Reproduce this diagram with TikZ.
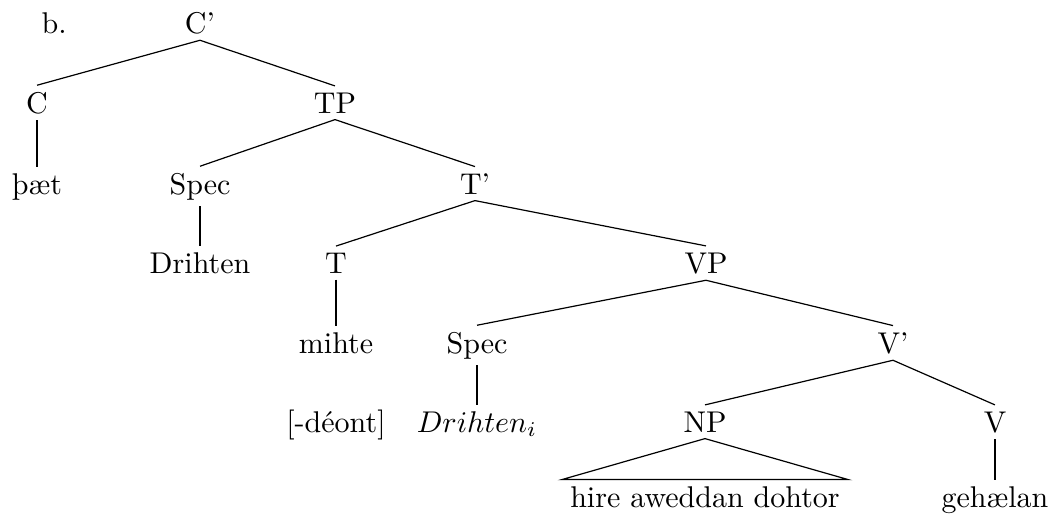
\documentclass[tikz,border=0pt]{standalone}
\begin{document}
\begin{tikzpicture}[x=0.3333pt,y=-0.3333pt,
  lab/.style={anchor=base,inner xsep=1pt,inner ysep=2pt,font=\fontsize{10}{12}\selectfont},
  edge/.style={draw,line width=0.4pt}]
\useasboundingbox (0,0) rectangle (1056,521);
% labels
\node[lab,anchor=base west] (b) at (38,33) {b.};
\node[lab] (Cbar) at (200,33) {C'};
\node[lab] (C) at (37,113) {C};
\node[lab] (TP) at (335,113) {TP};
\node[lab] (that) at (37,194) {þæt};
\node[lab] (Spec1) at (200,194) {Spec};
\node[lab] (Tbar) at (475,194) {T'};
\node[lab] (Drihten) at (200,273) {Drihten};
\node[lab] (T) at (336,273) {T};
\node[lab] (VP) at (706,273) {VP};
\node[lab] (mihte) at (336,353) {mihte};
\node[lab] (Spec2) at (477,353) {Spec};
\node[lab] (Vbar) at (893,353) {V'};
\node[lab] (deont) at (336,432) {[-déont]};
\node[lab] (Drihteni) at (477,432) {$Drihten_i$};
\node[lab] (NP) at (705,432) {NP};
\node[lab] (V) at (995,432) {V};
\node[lab,inner xsep=2.6pt] (hire) at (705,507) {hire aweddan dohtor};
\node[lab] (gehaelan) at (995,507) {gehælan};
% edges
\draw[edge] (Cbar.south) -- (C.north);
\draw[edge] (Cbar.south) -- (TP.north);
\draw[edge] (C.south) -- (that.north);
\draw[edge] (TP.south) -- (Spec1.north);
\draw[edge] (TP.south) -- (Tbar.north);
\draw[edge] (Spec1.south) -- (Drihten.north);
\draw[edge] (Tbar.south) -- (T.north);
\draw[edge] (Tbar.south) -- (VP.north);
\draw[edge] (T.south) -- (mihte.north);
\draw[edge] (VP.south) -- (Spec2.north);
\draw[edge] (VP.south) -- (Vbar.north);
\draw[edge] (Spec2.south) -- (Drihteni.north);
\draw[edge] (Vbar.south) -- (NP.north);
\draw[edge] (Vbar.south) -- (V.north);
\draw[edge] (NP.south) -- (hire.north west) -- (hire.north east) -- cycle;
\draw[edge] (V.south) -- (gehaelan.north);
\end{tikzpicture}
\end{document}
